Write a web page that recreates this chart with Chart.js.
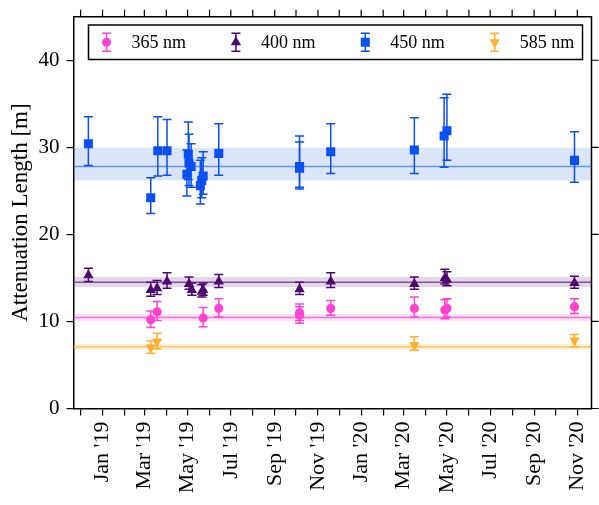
<!DOCTYPE html>
<html>
<head>
<meta charset="utf-8">
<script src="https://cdn.jsdelivr.net/npm/chart.js@4.4.1/dist/chart.umd.min.js"></script>
<style>
  body { margin: 0; background: #fff; }
</style>
</head>
<body>
<canvas id="Chart" width="599" height="505"></canvas>
<script>
// ---- data ----
const seriesNames = ['365 nm', '400 nm', '450 nm', '585 nm'];

const dates365 = ['2019-03-10', '2019-03-19', '2019-05-23', '2019-06-14', '2019-10-06', '2019-10-06',
                  '2019-11-19', '2020-03-16', '2020-04-28', '2020-05-01', '2020-10-28'];
const val365   = [10.2, 11.1, 10.4, 11.5, 11.0, 10.7, 11.5, 11.5, 11.3, 11.5, 11.7];
const up365    = [1.0, 1.2, 1.2, 1.1, 1.0, 1.0, 0.9, 1.3, 1.2, 1.1, 0.9];
const dn365    = [0.9, 1.0, 1.0, 1.0, 0.9, 0.9, 0.8, 1.0, 1.0, 1.0, 0.8];

const dates400 = ['2018-12-12', '2019-03-10', '2019-03-19', '2019-04-02', '2019-05-03', '2019-05-07',
                  '2019-05-21', '2019-05-23', '2019-06-14', '2019-10-06', '2019-11-19', '2020-03-16',
                  '2020-04-28', '2020-05-01', '2020-10-28'];
const val400   = [15.3, 13.6, 13.8, 14.6, 14.3, 13.6, 13.4, 13.6, 14.6, 13.7, 14.6, 14.3, 15.0, 14.8, 14.4];
const up400    = [0.8, 0.9, 0.9, 1.0, 0.8, 0.8, 0.8, 0.8, 0.8, 0.8, 1.0, 0.8, 1.0, 0.9, 0.8];
const dn400    = [0.7, 0.7, 0.7, 0.8, 0.6, 0.6, 0.6, 0.6, 0.7, 0.6, 0.7, 0.6, 0.7, 0.7, 0.6];

const dates450 = ['2018-12-12', '2019-03-10', '2019-03-20', '2019-04-02', '2019-04-30', '2019-05-02',
                  '2019-05-03', '2019-05-06', '2019-05-19', '2019-05-21', '2019-05-23', '2019-06-14',
                  '2019-10-06', '2019-10-06', '2019-11-19', '2020-03-16', '2020-04-27', '2020-05-01',
                  '2020-10-28'];
const val450   = [30.4, 24.2, 29.6, 29.6, 26.9, 29.2, 28.2, 27.8, 25.6, 26.2, 26.7, 29.3,
                  27.6, 27.8, 29.5, 29.7, 31.3, 31.9, 28.5];
const up450    = [3.1, 2.3, 3.9, 3.6, 2.8, 3.7, 3.3, 2.6, 2.9, 2.6, 2.8, 3.4, 3.7, 2.8, 3.2, 3.7, 4.4, 4.2, 3.3];
const dn450    = [2.5, 1.8, 2.9, 2.8, 2.5, 2.9, 2.6, 2.4, 2.1, 2.0, 2.1, 2.5, 2.2, 2.6, 2.5, 2.7, 3.6, 3.4, 2.5];

const dates585 = ['2019-03-10', '2019-03-19', '2020-03-16', '2020-10-28'];
const val585   = [7.0, 7.7, 7.3, 7.8];
const up585    = [0.75, 0.95, 0.95, 0.7];
const dn585    = [0.65, 0.85, 0.6, 0.7];

// weighted means and their bands (365, 400, 450, 585)
const meanVals = [10.45, 14.5, 27.8, 7.1];
const bandLo   = [10.05, 13.95, 26.2, 6.78];
const bandHi   = [10.85, 15.1, 29.95, 7.42];

const tickMonths = ['2018-12-01', '2019-01-01', '2019-02-01', '2019-03-01', '2019-04-01', '2019-05-01',
                    '2019-06-01', '2019-07-01', '2019-08-01', '2019-09-01', '2019-10-01', '2019-11-01',
                    '2019-12-01', '2020-01-01', '2020-02-01', '2020-03-01', '2020-04-01', '2020-05-01',
                    '2020-06-01', '2020-07-01', '2020-08-01', '2020-09-01', '2020-10-01', '2020-11-01'];
const tickLabels = ['', "Jan '19", '', "Mar '19", '', "May '19", '', "Jul '19", '', "Sep '19", '', "Nov '19",
                    '', "Jan '20", '', "Mar '20", '', "May '20", '', "Jul '20", '', "Sep '20", '', "Nov '20"];
const yTicks = [0, 10, 20, 30, 40];

// ---- styles ----
const colors     = ['#ff45d0', '#4d0870', '#0a4ff0', '#ffb02e'];
const lineColors = ['rgba(255,90,215,0.85)', 'rgba(95,40,125,0.75)', 'rgba(70,125,235,0.8)', 'rgba(255,190,80,0.85)'];
const bandColors = ['rgba(255,120,220,0.2)', 'rgba(110,50,140,0.2)', 'rgba(70,125,235,0.2)', 'rgba(255,180,60,0.22)'];
const markers    = ['circle', 'triangle', 'rect', 'triangle'];
const markerRot  = [0, 0, 0, 180];
const markerSize = [4.6, 6, 6.4, 6];
const FONT = "'Liberation Serif', 'Times New Roman', serif";

function toX(s) {
    const p = s.split('-');
    return Date.UTC(+p[0], +p[1] - 1, +p[2]);
}

function makePoints(dates, vals) {
    return dates.map((d, i) => ({ x: toX(d), y: vals[i] }));
}

const allDates = [dates365, dates400, dates450, dates585];
const allVals  = [val365, val400, val450, val585];
const allUp    = [up365, up400, up450, up585];
const allDn    = [dn365, dn400, dn450, dn585];

// bands + mean lines under everything, then error bars
const bandPlugin = {
    id: 'bands',
    beforeDatasetsDraw(chart) {
        const ctx = chart.ctx;
        const area = chart.chartArea;
        const y = chart.scales.y;
        const x = chart.scales.x;
        ctx.save();
        ctx.beginPath();
        ctx.rect(area.left, area.top, area.right - area.left, area.bottom - area.top);
        ctx.clip();
        for (let i = 0; i < meanVals.length; i++) {
            const t = y.getPixelForValue(bandHi[i]);
            const b = y.getPixelForValue(bandLo[i]);
            ctx.fillStyle = bandColors[i];
            ctx.fillRect(area.left, t, area.right - area.left, b - t);
            const m = y.getPixelForValue(meanVals[i]);
            ctx.strokeStyle = lineColors[i];
            ctx.lineWidth = 1.6;
            ctx.beginPath();
            ctx.moveTo(area.left, m);
            ctx.lineTo(area.right, m);
            ctx.stroke();
        }
        // error bars
        for (let i = 0; i < allVals.length; i++) {
            ctx.strokeStyle = colors[i];
            ctx.lineWidth = 1.5;
            for (let j = 0; j < allVals[i].length; j++) {
                const px = x.getPixelForValue(toX(allDates[i][j]));
                const top = y.getPixelForValue(allVals[i][j] + allUp[i][j]);
                const bot = y.getPixelForValue(allVals[i][j] - allDn[i][j]);
                ctx.beginPath();
                ctx.moveTo(px, top); ctx.lineTo(px, bot);
                ctx.moveTo(px - 4.5, top); ctx.lineTo(px + 4.5, top);
                ctx.moveTo(px - 4.5, bot); ctx.lineTo(px + 4.5, bot);
                ctx.stroke();
            }
        }
        ctx.restore();
    }
};

function drawMarker(ctx, kind, rot, cx, cy, r) {
    ctx.beginPath();
    if (kind === 'circle') {
        ctx.arc(cx, cy, r, 0, Math.PI * 2);
    } else if (kind === 'rect') {
        const s = r * Math.SQRT1_2;
        ctx.rect(cx - s, cy - s, 2 * s, 2 * s);
    } else {
        const dir = rot === 180 ? -1 : 1;
        ctx.moveTo(cx, cy - dir * r);
        ctx.lineTo(cx - r * 0.866, cy + dir * r * 0.5);
        ctx.lineTo(cx + r * 0.866, cy + dir * r * 0.5);
        ctx.closePath();
    }
    ctx.fill();
}

// top/right frame with mirrored ticks, and the legend box
const framePlugin = {
    id: 'frame',
    afterDraw(chart) {
        const ctx = chart.ctx;
        const area = chart.chartArea;
        const x = chart.scales.x;
        const y = chart.scales.y;
        ctx.save();
        ctx.strokeStyle = '#000';
        ctx.lineWidth = 1.5;
        ctx.beginPath();
        ctx.moveTo(area.left, area.top); ctx.lineTo(area.right, area.top);
        ctx.lineTo(area.right, area.bottom);
        ctx.stroke();
        ctx.lineWidth = 1.2;
        ctx.beginPath();
        tickMonths.forEach(m => {
            const px = x.getPixelForValue(toX(m));
            ctx.moveTo(px, area.top); ctx.lineTo(px, area.top - 7);
        });
        yTicks.forEach(v => {
            const py = y.getPixelForValue(v);
            ctx.moveTo(area.right, py); ctx.lineTo(area.right + 7, py);
        });
        ctx.stroke();

        // legend
        const lx = 88.5, ly = 25, lw = 494, lh = 34.5;
        ctx.fillStyle = '#fff';
        ctx.fillRect(lx, ly, lw, lh);
        ctx.lineWidth = 1.5;
        ctx.strokeStyle = '#000';
        ctx.strokeRect(lx, ly, lw, lh);
        const cy = ly + lh / 2;
        for (let i = 0; i < seriesNames.length; i++) {
            const mx = 106.5 + i * 129.4;
            ctx.strokeStyle = colors[i];
            ctx.fillStyle = colors[i];
            ctx.lineWidth = 1.5;
            ctx.beginPath();
            ctx.moveTo(mx, cy - 9); ctx.lineTo(mx, cy + 9);
            ctx.moveTo(mx - 4.5, cy - 9); ctx.lineTo(mx + 4.5, cy - 9);
            ctx.moveTo(mx - 4.5, cy + 9); ctx.lineTo(mx + 4.5, cy + 9);
            ctx.stroke();
            drawMarker(ctx, markers[i], markerRot[i], mx, cy, markerSize[i]);
            ctx.fillStyle = '#000';
            ctx.font = '18px ' + FONT;
            ctx.textBaseline = 'middle';
            ctx.textAlign = 'left';
            ctx.fillText(seriesNames[i], mx + 25, cy + 1);
        }
        ctx.restore();
    }
};

function main() {
    const ctx = document.getElementById('Chart');
    const datasets = seriesNames.map((name, i) => ({
        label: name,
        data: makePoints(allDates[i], allVals[i]),
        backgroundColor: colors[i],
        borderColor: colors[i],
        borderWidth: 0,
        pointStyle: markers[i],
        rotation: markerRot[i],
        pointRadius: markerSize[i],
        pointHoverRadius: markerSize[i]
    }));

    new Chart(ctx, {
        type: 'scatter',
        data: { datasets: datasets },
        plugins: [bandPlugin, framePlugin],
        options: {
            responsive: false,
            animation: false,
            devicePixelRatio: 1,
            layout: { autoPadding: false, padding: { left: 0, right: 7.5, top: 16.7, bottom: 0 } },
            plugins: { legend: { display: false }, tooltip: { enabled: false } },
            scales: {
                x: {
                    type: 'linear',
                    min: Date.UTC(2018, 10, 21),
                    max: Date.UTC(2020, 10, 21),
                    afterBuildTicks: scale => {
                        scale.ticks = tickMonths.map(m => ({ value: toX(m) }));
                    },
                    afterFit: scale => {
                        scale.height = 96.5;
                        scale.paddingLeft = 0;
                        scale.paddingRight = 0;
                    },
                    ticks: {
                        autoSkip: false,
                        minRotation: 90,
                        maxRotation: 90,
                        padding: 6,
                        color: '#000',
                        font: { family: FONT, size: 22 },
                        callback: (v, idx) => tickLabels[idx]
                    },
                    grid: { drawOnChartArea: false, color: '#000', lineWidth: 1.2, tickLength: 7 },
                    border: { color: '#000', width: 1.5 }
                },
                y: {
                    min: 0,
                    max: 45,
                    afterBuildTicks: scale => {
                        scale.ticks = yTicks.map(v => ({ value: v }));
                    },
                    afterFit: scale => {
                        scale.width = 73.5;
                        scale.paddingTop = 0;
                        scale.paddingBottom = 0;
                    },
                    ticks: {
                        padding: 7,
                        color: '#000',
                        font: { family: FONT, size: 21 }
                    },
                    title: {
                        display: true,
                        text: 'Attenuation Length [m]',
                        color: '#000',
                        font: { family: FONT, size: 23 },
                        padding: { top: 7, bottom: 0 }
                    },
                    grid: { drawOnChartArea: false, color: '#000', lineWidth: 1.2, tickLength: 7 },
                    border: { color: '#000', width: 1.5 }
                }
            }
        }
    });
}

main();
</script>
</body>
</html>
